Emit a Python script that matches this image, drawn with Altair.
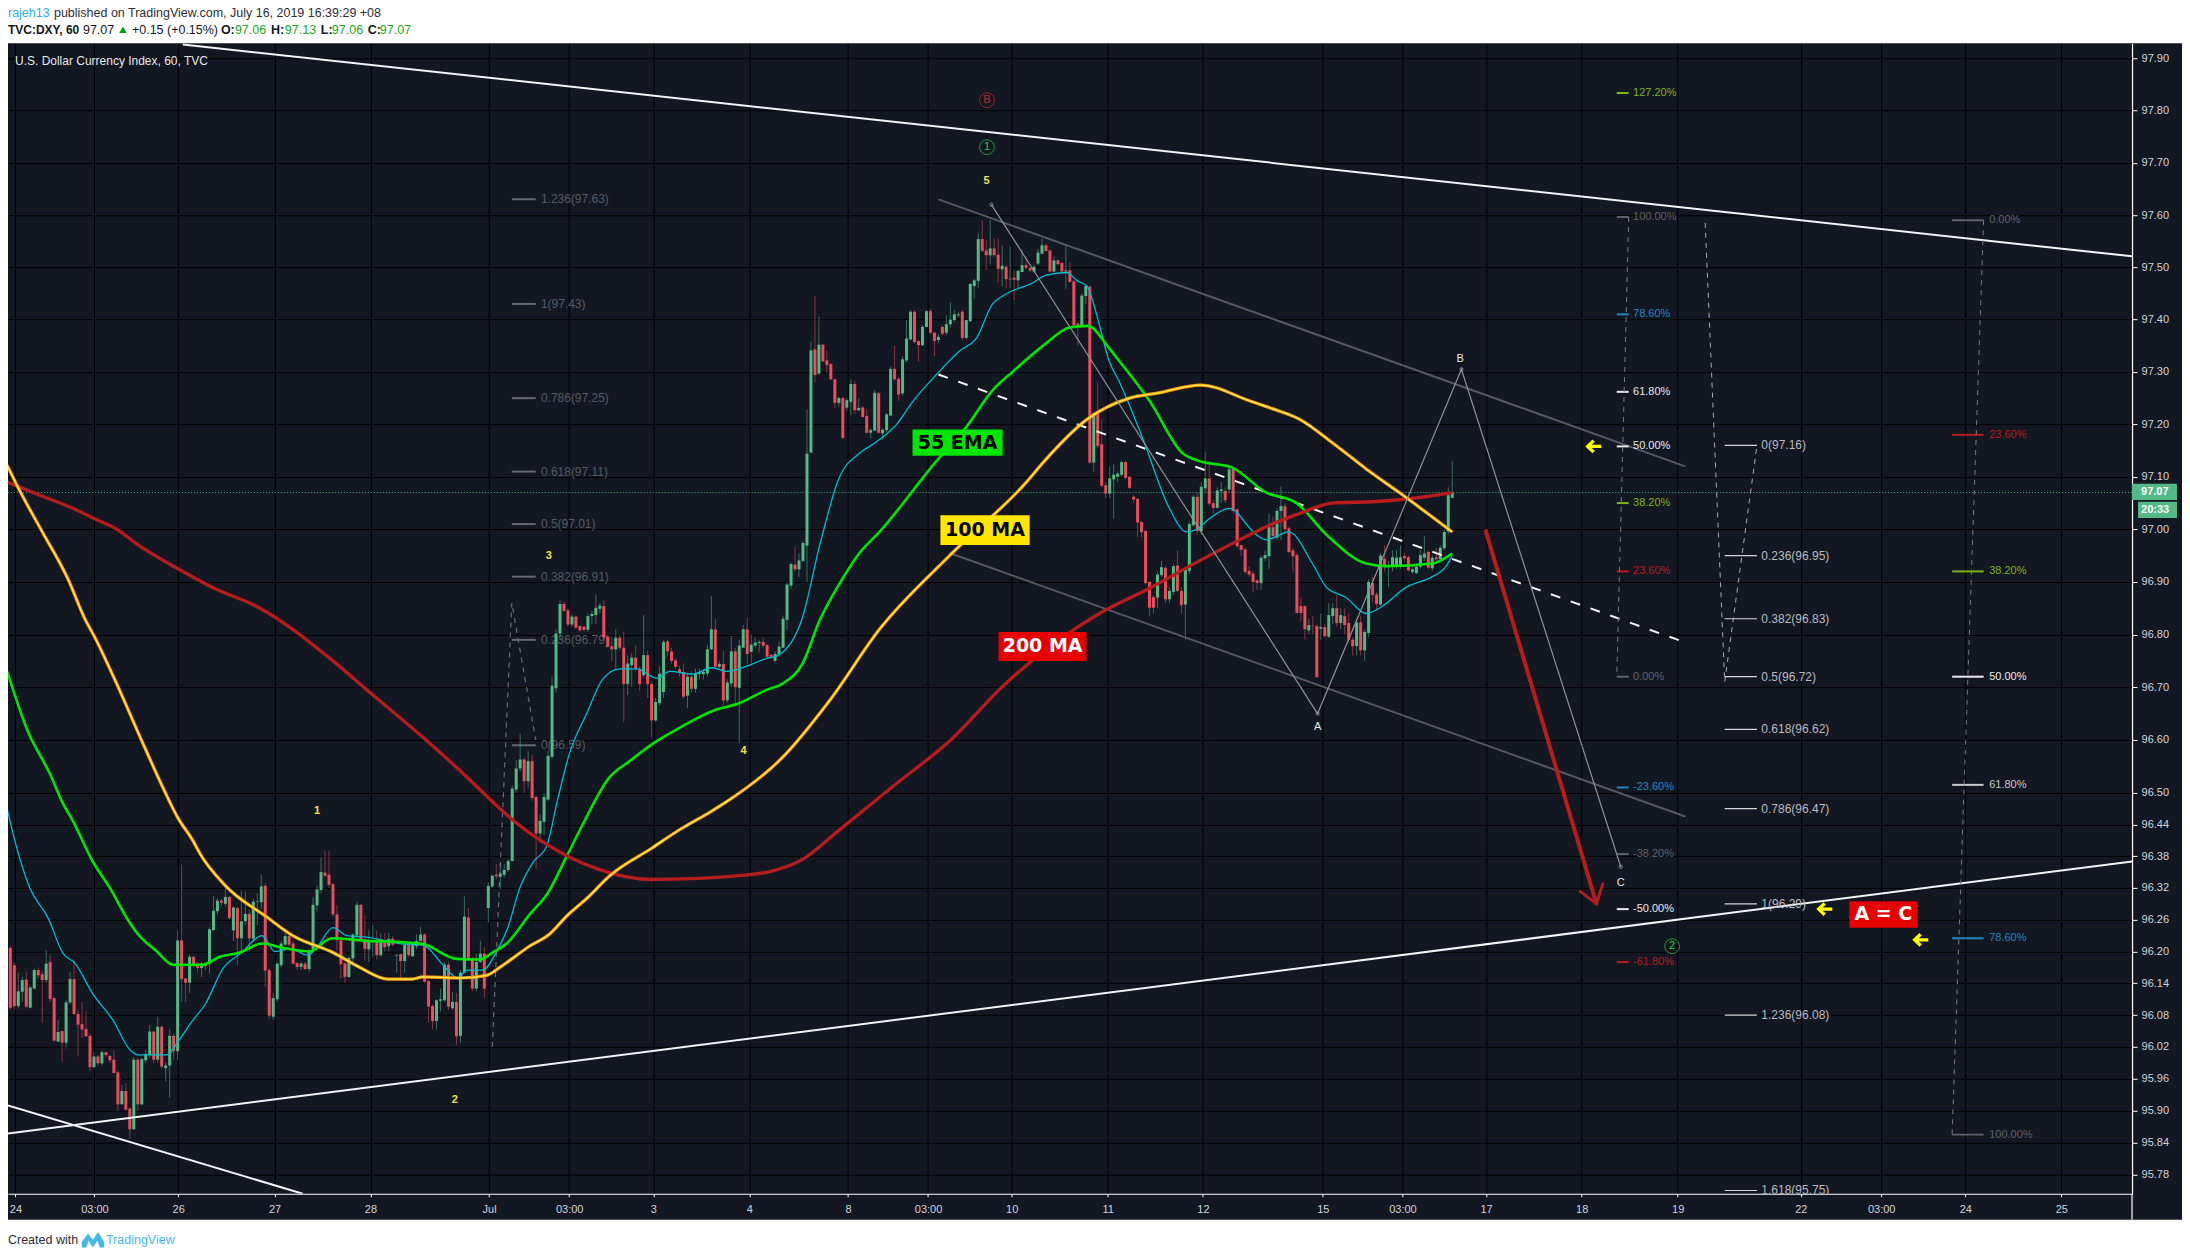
import json
import altair as alt
import pandas as pd

# ---- axis values ----
price_ticks = [97.9, 97.8, 97.7, 97.6, 97.5, 97.4, 97.3, 97.2, 97.1, 97.0, 96.9, 96.8, 96.7, 96.6, 96.5,
               96.44, 96.38, 96.32, 96.26, 96.2, 96.14, 96.08, 96.02, 95.96, 95.9, 95.84, 95.78]
time_ticks = [1.27, 21.12, 42.15, 66.34, 90.41, 120.2, 140.3, 161.4, 185.5, 210.3, 230.4, 251.4, 275.5,
              299.4, 329.5, 349.5, 370.5, 394.5, 418.6, 449.5, 469.7, 490.8, 514.9]
time_labels = ["24", "03:00", "26", "27", "28", "Jul", "03:00", "3", "4", "8", "03:00", "10", "11", "12",
               "15", "03:00", "17", "18", "19", "22", "03:00", "24", "25"]
BAR_MIN, BAR_MAX = -0.585, 532.66
PRICE_MIN, PRICE_MAX = 95.7439, 97.9294

# ---- hourly candles: (open, high, low, close) ----
candles_a = [
 (96.177,96.21,96.17,96.202),(96.207,96.21,96.09,96.094),(96.174,96.18,96.09,96.097),(96.097,96.16,96.093,96.125),
 (96.124,96.152,96.105,96.146),(96.147,96.162,96.093,96.096),(96.094,96.135,96.094,96.132),(96.13,96.168,96.13,96.165),
 (96.165,96.17,96.15,96.155),(96.157,96.165,96.065,96.146),(96.146,96.202,96.14,96.177),(96.18,96.193,96.105,96.11),
 (96.112,96.115,96.03,96.032),(96.03,96.071,96.03,96.048),(96.05,96.05,95.992,96.028),(96.028,96.108,96.017,96.104),
 (96.104,96.162,96.10,96.148),(96.148,96.185,96.08,96.082),(96.082,96.09,96.002,96.062),(96.063,96.105,96.037,96.053),
 (96.054,96.087,96.04,96.04),(96.041,96.045,95.974,95.982),(95.982,96.01,95.98,96.002),(96.002,96.005,95.985,95.989),
 (95.989,96.014,95.985,96.01),(96.01,96.012,96.0,96.005),(96.003,96.005,95.99,95.995),(95.996,96.015,95.97,95.971),
 (95.972,95.975,95.90,95.912),(95.912,95.949,95.912,95.937),(95.937,95.952,95.899,95.902),(95.904,95.906,95.846,95.865),
 (95.865,96.001,95.865,95.996),(95.996,96.0,95.90,95.912),(95.912,96.0,95.91,95.997),(95.995,96.015,95.99,96.007),
 (96.005,96.062,96.0,96.049),(96.049,96.05,95.99,95.996),(95.996,96.077,95.99,96.058),(96.058,96.06,95.98,95.983),
 (95.98,95.99,95.955,95.985),(95.985,96.053,95.924,96.041),(96.041,96.045,95.996,96.012),
]
candles_b = [
 (96.012,96.24,95.996,96.221),(96.221,96.364,96.105,96.148),(96.149,96.15,96.105,96.141),(96.141,96.195,96.122,96.19),
 (96.19,96.192,96.17,96.176),(96.177,96.18,96.16,96.169),(96.169,96.18,96.152,96.177),(96.177,96.18,96.165,96.172),
 (96.176,96.246,96.158,96.242),(96.24,96.305,96.24,96.277),(96.276,96.30,96.27,96.296),(96.296,96.30,96.285,96.292),
 (96.29,96.32,96.285,96.303),(96.303,96.305,96.26,96.263),(96.24,96.285,96.22,96.283),(96.282,96.285,96.174,96.225),
 (96.225,96.315,96.20,96.257),(96.257,96.313,96.25,96.271),(96.271,96.28,96.20,96.225),(96.224,96.30,96.22,96.294),
 (96.294,96.31,96.25,96.295),(96.293,96.345,96.28,96.323),(96.324,96.329,96.134,96.164),(96.165,96.17,96.072,96.079),
 (96.077,96.122,96.072,96.112),(96.11,96.18,96.105,96.177),(96.174,96.22,96.17,96.215),(96.213,96.235,96.21,96.229),
 (96.229,96.235,96.21,96.213),(96.215,96.22,96.175,96.177),(96.178,96.18,96.165,96.171),(96.171,96.18,96.165,96.177),
 (96.177,96.18,96.165,96.167),(96.167,96.205,96.161,96.202),(96.202,96.303,96.20,96.288),(96.287,96.325,96.275,96.317),
 (96.316,96.378,96.31,96.35),(96.349,96.39,96.34,96.343),(96.345,96.39,96.32,96.326),(96.327,96.33,96.265,96.27),
]
candles_c = [
 (96.27,96.287,96.20,96.221),(96.221,96.23,96.149,96.176),(96.177,96.18,96.141,96.152),(96.152,96.19,96.15,96.188),
 (96.187,96.235,96.18,96.232),(96.23,96.294,96.225,96.288),(96.288,96.29,96.22,96.221),(96.222,96.268,96.183,96.205),
 (96.204,96.24,96.18,96.22),(96.22,96.25,96.19,96.221),(96.221,96.24,96.185,96.193),(96.193,96.235,96.19,96.22),
 (96.22,96.235,96.2,96.208),(96.21,96.235,96.2,96.224),(96.224,96.23,96.21,96.213),(96.192,96.195,96.16,96.193),
 (96.195,96.195,96.146,96.182),(96.182,96.215,96.16,96.213),(96.213,96.215,96.19,96.193),(96.191,96.215,96.19,96.212),
 (96.21,96.232,96.205,96.22),(96.22,96.247,96.215,96.232),(96.232,96.235,96.14,96.143),(96.144,96.146,96.066,96.096),
 (96.097,96.1,96.053,96.069),(96.069,96.11,96.053,96.108),(96.107,96.13,96.087,96.11),(96.108,96.18,96.105,96.175),
 (96.175,96.18,96.09,96.096),(96.093,96.124,96.09,96.105),(96.105,96.122,96.024,96.04),(96.041,96.165,96.028,96.16),
 (96.16,96.304,96.16,96.266),(96.264,96.282,96.185,96.188),(96.188,96.19,96.125,96.13),(96.13,96.196,96.125,96.18),
 (96.18,96.22,96.178,96.196),(96.196,96.208,96.113,96.13),
]
candles_d = [
 (96.282,96.33,96.255,96.324),(96.323,96.345,96.32,96.343),(96.345,96.365,96.337,96.342),(96.341,96.368,96.318,96.347),
 (96.345,96.365,96.34,96.354),(96.354,96.375,96.35,96.371),(96.371,96.514,96.37,96.508),(96.506,96.562,96.50,96.546),
 (96.546,96.612,96.54,96.563),(96.563,96.566,96.50,96.522),(96.522,96.58,96.51,96.56),(96.56,96.572,96.485,96.49),
 (96.492,96.495,96.356,96.423),(96.423,96.46,96.405,96.447),(96.445,96.50,96.42,96.492),(96.487,96.58,96.485,96.57),
 (96.568,96.72,96.565,96.703),(96.698,96.81,96.69,96.802),(96.802,96.865,96.79,96.858),
 (96.858,96.862,96.843,96.845),(96.846,96.85,96.815,96.819),(96.819,96.838,96.815,96.834),(96.834,96.836,96.81,96.813),
 (96.816,96.818,96.805,96.808),(96.815,96.816,96.806,96.809),(96.809,96.84,96.805,96.835),(96.835,96.845,96.82,96.839),
 (96.837,96.876,96.82,96.851),(96.849,96.86,96.84,96.855),(96.854,96.865,96.79,96.794),(96.796,96.80,96.775,96.777),
 (96.778,96.795,96.75,96.772),(96.772,96.81,96.735,96.794),(96.794,96.80,96.77,96.775),(96.775,96.805,96.634,96.706),
 (96.706,96.76,96.685,96.745),(96.742,96.765,96.70,96.756),(96.756,96.78,96.73,96.735),(96.735,96.74,96.693,96.706),
 (96.723,96.837,96.72,96.761),(96.761,96.77,96.68,96.706),(96.706,96.71,96.606,96.637),(96.637,96.68,96.635,96.672),
 (96.67,96.74,96.665,96.726),(96.691,96.79,96.68,96.786),(96.787,96.79,96.76,96.768),(96.768,96.775,96.745,96.75),
 (96.751,96.755,96.735,96.739),(96.734,96.74,96.72,96.727),(96.729,96.745,96.678,96.682),(96.684,96.725,96.66,96.72),
 (96.72,96.73,96.69,96.697),(96.697,96.735,96.69,96.727),(96.725,96.735,96.715,96.727),(96.725,96.735,96.715,96.729),
 (96.726,96.78,96.72,96.772),(96.772,96.873,96.77,96.81),(96.81,96.829,96.735,96.739),(96.739,96.75,96.735,96.744),
 (96.744,96.769,96.665,96.675),(96.675,96.715,96.67,96.709),(96.707,96.797,96.70,96.768),(96.768,96.775,96.665,96.70),
]
candles_e = [
 (96.699,96.79,96.594,96.779),(96.775,96.818,96.775,96.81),(96.81,96.832,96.743,96.763),(96.767,96.80,96.746,96.781),
 (96.779,96.795,96.775,96.785),(96.784,96.79,96.766,96.786),(96.786,96.794,96.775,96.779),(96.78,96.782,96.755,96.758),
 (96.761,96.763,96.755,96.758),(96.75,96.768,96.747,96.763),(96.763,96.787,96.76,96.777),(96.775,96.836,96.775,96.83),
 (96.828,96.90,96.81,96.895),(96.893,96.937,96.887,96.934),(96.933,96.966,96.92,96.924),(96.924,96.954,96.909,96.941),
 (96.94,96.978,96.938,96.974),(96.969,97.228,96.899,97.144),(97.146,97.359,97.146,97.341),(97.343,97.445,97.28,97.294),
 (97.297,97.406,97.295,97.352),(97.352,97.354,97.318,97.32),(97.322,97.341,97.298,97.313),(97.315,97.317,97.284,97.286),
 (97.286,97.287,97.231,97.241),(97.241,97.253,97.234,97.25),(97.25,97.252,97.172,97.174),(97.232,97.25,97.225,97.246),
 (97.243,97.286,97.217,97.277),(97.277,97.282,97.22,97.227),(97.227,97.25,97.225,97.231),(97.232,97.235,97.213,97.214),
 (97.216,97.229,97.183,97.184),(97.184,97.192,97.173,97.189),(97.188,97.265,97.187,97.26),(97.259,97.262,97.182,97.184),
]
candles_f = [
 (97.183,97.192,97.17,97.19),(97.189,97.222,97.185,97.219),(97.217,97.31,97.215,97.306),(97.306,97.35,97.283,97.286),
 (97.287,97.29,97.245,97.257),(97.259,97.33,97.255,97.324),(97.322,97.399,97.318,97.364),(97.362,97.418,97.36,97.415),
 (97.415,97.418,97.355,97.357),(97.359,97.36,97.32,97.351),(97.351,97.39,97.35,97.386),(97.386,97.418,97.385,97.416),
 (97.416,97.42,97.372,97.375),(97.375,97.377,97.33,97.359),(97.361,97.372,97.355,97.367),(97.386,97.389,97.37,97.373),
 (97.375,97.408,97.37,97.391),(97.391,97.433,97.385,97.40),(97.399,97.418,97.395,97.41),(97.408,97.415,97.405,97.41),
 (97.415,97.418,97.36,97.365),(97.365,97.40,97.362,97.399),(97.397,97.47,97.395,97.468),(97.464,97.478,97.44,97.475),
 (97.474,97.566,97.46,97.554),(97.554,97.59,97.53,97.531),(97.532,97.553,97.495,97.523),(97.523,97.59,97.505,97.536),
 (97.536,97.555,97.52,97.523),(97.524,97.555,97.47,97.497),(97.496,97.542,97.463,97.503),(97.501,97.505,97.46,97.477),
 (97.477,97.54,97.46,97.478),(97.48,97.494,97.437,97.476),(97.475,97.495,97.46,97.493),(97.491,97.533,97.49,97.504),
 (97.504,97.52,97.495,97.499),(97.499,97.50,97.49,97.494),(97.492,97.505,97.49,97.501),(97.507,97.535,97.505,97.528),
 (97.526,97.555,97.525,97.542),(97.542,97.545,97.53,97.531),(97.532,97.535,97.49,97.492),(97.492,97.521,97.49,97.513),
 (97.513,97.515,97.505,97.506),(97.508,97.51,97.49,97.492),(97.492,97.543,97.459,97.494),(97.494,97.51,97.47,97.472),
 (97.473,97.475,97.385,97.389),(97.392,97.395,97.35,97.387),(97.387,97.45,97.385,97.446),(97.445,97.467,97.43,97.464),
]
candles_g = [
 (97.463,97.465,97.125,97.127),(97.127,97.222,97.11,97.222),(97.222,97.28,97.155,97.159),(97.162,97.21,97.08,97.083),
 (97.084,97.09,97.06,97.068),(97.068,97.12,97.06,97.097),(97.095,97.124,97.02,97.104),(97.10,97.11,97.09,97.106),
 (97.104,97.13,97.10,97.128),(97.128,97.13,97.095,97.098),(97.10,97.101,97.077,97.079),(97.062,97.065,97.05,97.057),
 (97.058,97.06,96.985,97.013),(97.014,97.016,96.985,96.995),(96.997,96.998,96.895,96.898),(96.90,96.90,96.835,96.851),
 (96.871,96.875,96.84,96.851),(96.87,96.92,96.85,96.914),(96.913,96.94,96.91,96.928),(96.927,96.93,96.86,96.867),
 (96.867,96.89,96.86,96.883),(96.881,96.935,96.875,96.93),(96.931,96.96,96.88,96.883),(96.883,96.89,96.84,96.856),
 (96.857,96.925,96.79,96.923),(96.921,97.015,96.915,97.01),(97.008,97.065,97.005,97.062),(97.062,97.07,96.99,96.997),
 (96.996,97.09,96.99,97.081),(97.078,97.147,97.07,97.097),(97.097,97.13,97.045,97.049),(97.05,97.055,97.03,97.041),
 (97.041,97.08,97.04,97.074),(97.073,97.09,97.05,97.076),(97.073,97.08,97.05,97.055),(97.076,97.118,97.07,97.114),
 (97.116,97.118,97.03,97.035),(97.038,97.04,96.965,96.968),(96.97,96.97,96.95,96.961),(96.962,96.965,96.915,96.919),
 (96.921,96.93,96.91,96.914),(96.916,96.92,96.88,96.90),(96.903,96.905,96.885,96.898),(96.898,96.95,96.885,96.946),
 (96.945,96.96,96.94,96.951),(96.949,97.03,96.925,97.004),(97.004,97.025,96.98,96.987),(96.984,97.04,96.98,97.035),
 (97.035,97.082,96.98,97.044),(97.044,97.05,96.995,97.0),(97.002,97.005,96.955,96.957),(96.96,96.965,96.92,96.949),
 (96.951,96.955,96.84,96.841),(96.854,96.87,96.825,96.841),(96.854,96.855,96.79,96.81),(96.808,96.83,96.80,96.818),
 (96.818,96.835,96.80,96.817),(96.816,96.82,96.718,96.719),(96.811,96.84,96.79,96.814),(96.814,96.82,96.793,96.797),
 (96.796,96.86,96.793,96.837),(96.835,96.86,96.82,96.85),(96.85,96.875,96.815,96.822),(96.822,96.85,96.81,96.837),
 (96.835,96.85,96.80,96.818),(96.822,96.84,96.785,96.79),(96.79,96.795,96.76,96.778),(96.778,96.83,96.76,96.823),
 (96.823,96.835,96.76,96.77),(96.77,96.81,96.75,96.805),(96.803,96.905,96.795,96.90),(96.898,96.91,96.86,96.875),
 (96.876,96.88,96.845,96.858),(96.857,96.955,96.855,96.95),(96.944,96.97,96.92,96.93),(96.929,96.94,96.89,96.93),
 (96.93,96.96,96.92,96.947),(96.93,96.96,96.925,96.946),(96.93,96.97,96.925,96.947),(96.949,96.955,96.94,96.945),
 (96.947,96.95,96.92,96.922),(96.919,96.93,96.915,96.924),(96.917,96.935,96.915,96.929),(96.929,96.96,96.925,96.951),
 (96.946,96.988,96.94,96.954),(96.957,96.96,96.925,96.927),(96.926,96.95,96.92,96.946),(96.947,96.965,96.94,96.943),
 (96.943,96.97,96.94,96.965),(96.964,97.0,96.96,96.995),(96.996,97.08,96.99,97.065),(97.06,97.13,97.06,97.07),
]
candle_segments = [(-1, candles_a), (42, candles_b), (82, candles_c), (120, candles_d), (183, candles_e),
                   (219, candles_f), (271, candles_g)]

# ---- moving averages: hour number, price ----
ma200_bar = [-0.8,5.7,15.7,21.2,26.8,31.8,42.1,50.9,62.7,70.9,81,90.3,103.3,114.6,122.9,125.9,135.2,147,161,172.6,180.6,
             190.1,198.9,207.7,221.7,235.8,249.6,273.4,286,298.5,308.6,316.8,323.6,331.9,343,353,362]
ma200_val = [97.09,97.07,97.04,97.02,97.0,96.972,96.925,96.889,96.85,96.81,96.75,96.69,96.607,96.53,96.47,96.45,96.40,
             96.357,96.336,96.338,96.342,96.35,96.374,96.427,96.513,96.598,96.705,96.84,96.888,96.94,96.98,97.01,97.03,
             97.05,97.053,97.06,97.07]
ma100_bar = [-0.8,2.4,7.9,14.5,18.7,21.2,26.8,32.5,38.3,42.1,45.8,47.6,53.9,64.4,70.9,81,87.7,94.8,100.9,103.6,112.8,119.6,
             122.9,126.1,129.9,135.4,139.7,144.7,150.5,161,168,176,180.6,193.6,205.7,218.2,235.8,255.1,259.6,270.4,281,
             288.3,298.8,311.1,316.8,323.6,331.9,340.4,348.7,362]
ma100_val = [97.122,97.073,96.997,96.905,96.83,96.795,96.705,96.607,96.51,96.452,96.41,96.385,96.325,96.265,96.23,96.198,
             96.17,96.148,96.148,96.152,96.15,96.155,96.17,96.187,96.208,96.233,96.267,96.30,96.343,96.395,96.43,96.465,
             96.487,96.565,96.675,96.81,96.95,97.09,97.13,97.21,97.25,97.26,97.275,97.245,97.23,97.21,97.165,97.115,97.07,96.995]
ema55_bar = [-0.8,4.2,10,13.2,15.7,20.7,25,29.5,31.8,36.8,40.8,48.3,52.6,57.6,63.2,68.4,75.2,80.7,89.5,97.8,103.6,112.1,117.9,
             121.1,124.6,130.4,134.9,139.7,143.7,150.5,155.5,161.3,168,176.3,183.1,189.9,193.9,198.9,203.2,208.2,213.2,
             218.2,232.5,240,246.6,251.6,260.1,265.9,270.4,275.9,278.5,286,294.3,298.5,306.6,315.3,322.9,330.4,340.4,
             345.5,357,362]
ema55_val = [96.73,96.62,96.535,96.48,96.447,96.37,96.32,96.26,96.235,96.2,96.175,96.175,96.19,96.198,96.215,96.207,96.2,96.225,
             96.22,96.218,96.214,96.186,96.185,96.198,96.215,96.27,96.31,96.38,96.44,96.53,96.56,96.593,96.623,96.655,
             96.67,96.695,96.707,96.745,96.827,96.897,96.955,96.995,97.13,97.195,97.265,97.30,97.355,97.385,97.388,
             97.345,97.32,97.245,97.145,97.13,97.118,97.07,97.05,96.99,96.935,96.93,96.935,96.954]
ema_fast_bar = [-0.8,-0.1,4.9,9.5,13.2,16.2,20.7,25.8,30,32,39.3,42.1,45.8,48.9,53.4,58.1,63.2,66.4,70.2,74.7,77.2,81,
                84.5,89.5,97.8,103.6,108.6,112.3,114.6,118.6,122.1,124.9,127.9,131.2,134.7,137.4,140.4,144.7,148.7,153,
                157.3,162.3,165.5,171.3,176.3,179.8,184.9,189.9,192.6,198.9,203.2,208.2,213.2,217.5,222.5,226.5,232.5,
                238.3,242.6,246.6,249.1,256.6,260.1,265.2,267.7,270.4,272.7,275.9,278.5,280.5,284.2,291,295.3,297.8,
                301,306,312.8,315.3,321,326.9,330.4,335.4,340.4,343.7,350.5,357,360.5,362]
ema_fast_val = [96.47,96.447,96.32,96.263,96.197,96.178,96.12,96.07,96.015,96.005,96.005,96.03,96.07,96.1,96.168,96.198,
                96.23,96.2,96.205,96.193,96.21,96.245,96.23,96.227,96.215,96.212,96.175,96.15,96.165,96.165,96.2,96.245,
                96.32,96.368,96.40,96.487,96.575,96.65,96.715,96.735,96.735,96.717,96.73,96.725,96.737,96.73,96.74,96.755,
                96.76,96.833,96.97,97.10,97.145,97.167,97.20,97.243,97.295,97.34,97.365,97.43,97.445,97.47,97.485,97.49,
                97.475,97.463,97.41,97.32,97.28,97.245,97.175,97.04,96.995,97.0,97.02,97.04,96.99,96.98,96.995,96.935,
                96.89,96.87,96.84,96.85,96.89,96.91,96.93,96.95]

# ---- fibonacci levels ----
GREY = "#5f626a"; LIGHT = "#c4c6cb"; WHITE = "#e8e9ec"; BLUE = "#2286c3"; OLIVE = "#7cb518"; RED = "#b71c1c"
fib_a_labels = ["1.236(97.63)", "1(97.43)", "0.786(97.25)", "0.618(97.11)", "0.5(97.01)", "0.382(96.91)", "0.236(96.79)", "0(96.59)"]
fib_a_prices = [97.63, 97.43, 97.25, 97.11, 97.01, 96.91, 96.79, 96.59]
fib_b_labels = ["127.20%", "100.00%", "78.60%", "61.80%", "50.00%", "38.20%", "23.60%", "0.00%", "-23.60%", "-38.20%", "-50.00%", "-61.80%"]
fib_b_prices = [97.834, 97.596, 97.41, 97.262, 97.158, 97.05, 96.92, 96.72, 96.51, 96.384, 96.28, 96.18]
fib_b_colors = [OLIVE, GREY, BLUE, WHITE, WHITE, OLIVE, RED, GREY, BLUE, GREY, WHITE, RED]
fib_c_labels = ["0(97.16)", "0.236(96.95)", "0.382(96.83)", "0.5(96.72)", "0.618(96.62)", "0.786(96.47)", "1(96.29)", "1.236(96.08)", "1.618(95.75)"]
fib_c_prices = [97.16, 96.95, 96.83, 96.72, 96.62, 96.47, 96.29, 96.08, 95.75]
fib_d_labels = ["0.00%", "23.60%", "38.20%", "50.00%", "61.80%", "78.60%", "100.00%"]
fib_d_prices = [97.59, 97.18, 96.92, 96.72, 96.515, 96.225, 95.855]
fib_d_colors = [GREY, RED, OLIVE, WHITE, "#c9c9c9", BLUE, GREY]

X_SCALE = alt.Scale(domain=[BAR_MIN, BAR_MAX], nice=False, zero=False)
Y_SCALE = alt.Scale(type="log", domain=[PRICE_MIN, PRICE_MAX], nice=False)
label_expr = f"{json.dumps(time_labels)}[indexof({json.dumps(time_ticks)}, datum.value)]"
X_AXIS = alt.Axis(title=None, values=time_ticks, labelExpr=label_expr, grid=True, gridColor="#000000", gridWidth=1,
                  tickColor="#ffffff", tickSize=3, domainColor="#ffffff", domainWidth=1.2, labelColor="#d1d4dc",
                  labelFont="Liberation Sans", labelFontSize=11, labelPadding=7, labelOverlap=False, labelFlush=False)
Y_AXIS = alt.Axis(title=None, orient="right", values=price_ticks, format=".2f", grid=True, gridColor="#000000", gridWidth=1,
                  tickColor="#ffffff", tickSize=5, domainColor="#ffffff", domainWidth=1.2, labelColor="#d1d4dc",
                  labelFont="Liberation Sans", labelFontSize=11, labelPadding=4, labelOverlap=False, labelFlush=False)
X = alt.X("b:Q", scale=X_SCALE, axis=X_AXIS)
Y = alt.Y("p:Q", scale=Y_SCALE, axis=Y_AXIS)
layers = []


def path(bars, prices, color, width, dash=None, opacity=1.0, curve="linear"):
    df = pd.DataFrame({"b": bars, "p": prices, "i": range(len(bars))})
    kw = {"strokeDash": dash} if dash else {}
    return alt.Chart(df).mark_line(clip=True, color=color, strokeWidth=width, opacity=opacity, interpolate=curve, **kw).encode(x=X, y=Y, order="i:Q")


def level(b0, b1, p, color, width):
    df = pd.DataFrame({"b": [b0], "b2": [b1], "p": [p]})
    return alt.Chart(df).mark_rule(color=color, strokeWidth=width, clip=True).encode(x=X, x2="b2:Q", y=Y)


def tag(b, p, text, color, size=12, weight="normal", align="left", font="Liberation Sans"):
    df = pd.DataFrame({"b": [b], "p": [p]})
    return alt.Chart(df).mark_text(text=text, color=color, fontSize=size, fontWeight=weight, align=align,
                                   baseline="middle", font=font, clip=True).encode(x=X, y=Y)


def box(b0, b1, p0, p1, fill, text, ink):
    df = pd.DataFrame({"b": [b0], "b2": [b1], "p": [p0], "p2": [p1]})
    r = alt.Chart(df).mark_rect(color=fill).encode(x=X, x2="b2:Q", y=Y, y2="p2:Q")
    t = tag((b0 + b1) / 2, (p0 + p1) / 2, text, ink, 19, "bold", "center", "DejaVu Sans")
    return [r, t]


def chrome_text(text, x, y, color="#131722", size=12.5, weight="normal", align="left", font="Liberation Sans"):
    return alt.Chart(pd.DataFrame({"a": [0]})).mark_text(text=text, color=color, fontSize=size, fontWeight=weight, align=align,
                                                         baseline="middle", font=font).encode(x=alt.value(x), y=alt.value(y))


def chrome_rect(x, x2, y, y2, color):
    return alt.Chart(pd.DataFrame({"a": [0]})).mark_rect(color=color).encode(
        x=alt.value(x), x2=alt.value(x2), y=alt.value(y), y2=alt.value(y2))


# gray fib levels sit under the candles
for lab, pr in zip(fib_a_labels, fib_a_prices):
    layers.append(level(125.9, 131.9, pr, "#666a70", 2))
    layers.append(tag(133.2, pr, lab, "#565a61", 12))
layers.append(path([121, 125.9, 131.9], [96.02, 96.86, 96.60], "#6a6d74", 1.2, [5, 5]))

# candles
rows = []
for start, seg in candle_segments:
    for k, (o, h, l, c) in enumerate(seg):
        rows.append({"b": start + k, "o": o, "h": h, "l": l, "c": c})
cd = pd.DataFrame(rows)
for frame, col in ((cd[cd.c >= cd.o], "#53b987"), (cd[cd.c < cd.o], "#eb4d5c")):
    layers.append(alt.Chart(frame).mark_rule(color=col, strokeWidth=1, opacity=0.55).encode(
        x=X, y=alt.Y("h:Q", scale=Y_SCALE, axis=Y_AXIS), y2="l:Q"))
    layers.append(alt.Chart(frame).mark_rule(color=col, strokeWidth=3).encode(
        x=X, y=alt.Y("o:Q", scale=Y_SCALE, axis=Y_AXIS), y2="c:Q"))

# current price line
layers.append(path([BAR_MIN, BAR_MAX], [97.07, 97.07], "#53b987", 1, [1, 2]))

# long trend lines
layers.append(path([43.3, 532.66], [97.927, 97.521], "#f2f3f5", 2))
layers.append(path([BAR_MIN, 532.66], [95.857, 96.37], "#f2f3f5", 2))
layers.append(path([BAR_MIN, 73.4], [95.91, 95.7439], "#f2f3f5", 2))

# channel
layers.append(path([233, 420.5], [97.63, 97.12], "#55585f", 2))
layers.append(path([235.8, 420.5], [96.955, 96.455], "#55585f", 2))
layers.append(path([233, 420.5], [97.295, 96.785], "#f5f5f5", 2, [10, 11]))

# moving averages
layers.append(path(ema_fast_bar, ema_fast_val, "#00bcd4", 1.3, curve="monotone"))
layers.append(path(ema55_bar, ema55_val, "#00e600", 2.6, curve="monotone"))
layers.append(path(ma200_bar, ma200_val, "#b71c1c", 3.3, curve="monotone"))
layers.append(path(ma100_bar, ma100_val, "#ff9800", 3.2, curve="monotone"))
layers.append(path(ma100_bar, ma100_val, "#ffee58", 1.3, curve="monotone"))

# wave
wave_bar = [246.3, 328.2, 364.3, 404.3]
wave_val = [97.62, 96.65, 97.305, 96.36]
layers.append(path(wave_bar, wave_val, "#8f9196", 1.2))
layers.append(alt.Chart(pd.DataFrame({"b": wave_bar, "p": wave_val})).mark_point(
    shape="circle", size=10, color="#b8b9bc", filled=False, strokeWidth=1).encode(x=X, y=Y))

# other fib levels
for lab, pr, col in zip(fib_b_labels, fib_b_prices, fib_b_colors):
    layers.append(level(403.3, 406.3, pr, col, 2))
    layers.append(tag(407.4, pr, lab, col, 11))
layers.append(path([406.3, 403.3], [97.596, 96.72], "#777a80", 1, [5, 5]))
for lab, pr in zip(fib_c_labels, fib_c_prices):
    layers.append(level(430.4, 438.5, pr, "#d6d7da", 1.2))
    layers.append(tag(439.6, pr, lab, "#b9bbc0", 12))
layers.append(path([425.5, 430.4, 438.5], [97.585, 96.71, 97.16], "#a9abb0", 1, [5, 5]))
for lab, pr, col in zip(fib_d_labels, fib_d_prices, fib_d_colors):
    layers.append(level(487.5, 495.4, pr, col, 2))
    layers.append(tag(496.8, pr, lab, col, 11))
layers.append(path([495.4, 487.5], [97.59, 95.855], "#777a80", 1, [5, 5]))

# wave labels
for lab, b, p in (("1", 77, 96.465), ("2", 111.6, 95.92), ("3", 135.2, 96.95), ("4", 184.1, 96.58), ("5", 245.1, 97.665)):
    layers.append(tag(b, p, lab, "#f0e442", 11, "bold", "center"))
for lab, b, p in (("A", 328.2, 96.625), ("B", 364, 97.325), ("C", 404.3, 96.33)):
    layers.append(tag(b, p, lab, "#e8e9ec", 11, "normal", "center"))
for lab, b, p, col in (("B", 245.2, 97.82, "#c62828"), ("1", 245.2, 97.73, "#2ecc40"), ("2", 417.2, 96.21, "#2ecc40")):
    layers.append(alt.Chart(pd.DataFrame({"b": [b], "p": [p]})).mark_point(
        shape="circle", size=220, color=col, filled=False, strokeWidth=1).encode(x=X, y=Y))
    layers.append(tag(b, p, lab, col, 11, "normal", "center"))

# projected move
layers.append(path([370.3, 398.2], [97.0, 96.29], "#b71c1c", 4))
layers.append(path([393.9, 398.2, 399.9], [96.315, 96.29, 96.33], "#b71c1c", 3))

# arrows
ARROW = "M-1 0 L-0.1 -0.85 L0.2 -0.55 L-0.2 -0.2 L1 -0.2 L1 0.2 L-0.2 0.2 L0.2 0.55 L-0.1 0.85 Z"
layers.append(alt.Chart(pd.DataFrame({"b": [397.4, 455.4, 479.5], "p": [97.158, 96.28, 96.222]})).mark_point(
    shape=ARROW, size=256, color="#ffff00", filled=True, opacity=1).encode(x=X, y=Y))

# boxed notes
layers += box(226.5, 249.1, 97.19, 97.14, "#00e600", "55 EMA", "#000000")
layers += box(233.5, 255.9, 97.027, 96.97, "#ffe600", "100 MA", "#000000")
layers += box(248.1, 270.2, 96.805, 96.75, "#e60000", "200 MA", "#ffffff")
layers += box(461.7, 478.8, 96.295, 96.245, "#e60000", "A = C", "#ffffff")

# page chrome (plot-relative pixels: plot origin is page 8,43)
layers.append(chrome_rect(-4, 2182, -40, 0, "#ffffff"))
layers.append(chrome_rect(-4, 2182, 1177, 1215, "#ffffff"))
layers.append(alt.Chart(pd.DataFrame({"a": [0]})).mark_rule(color="#ffffff", strokeWidth=1.2).encode(
    x=alt.value(2125), y=alt.value(1151), y2=alt.value(1177)))
layers.append(chrome_rect(2125, 2170, 440.7, 457, "#53b987"))
layers.append(chrome_rect(2131, 2170, 458.7, 475, "#53b987"))
layers.append(chrome_text("97.07", 2134, 449, "#ffffff", 11, "bold"))
layers.append(chrome_text("20:33", 2134, 467, "#ffffff", 11, "bold"))
layers.append(chrome_text("U.S. Dollar Currency Index, 60, TVC", 7, 18, "#e8e9ec", 12))
layers.append(chrome_text("rajeh13", 0, -30.5, "#2eaee6"))
layers.append(chrome_text("published on TradingView.com, July 16, 2019 16:39:29 +08", 46, -30.5, "#2b2e36"))
layers.append(chrome_text("TVC:DXY, 60", 0, -13.5, "#131722", 12, "bold"))
layers.append(chrome_text("97.07", 75, -13.5, "#131722"))
layers.append(alt.Chart(pd.DataFrame({"a": [0]})).mark_point(shape="triangle-up", size=55, color="#009a0e", filled=True, opacity=1).encode(
    x=alt.value(115), y=alt.value(-13.5)))
layers.append(chrome_text("+0.15 (+0.15%)", 124, -13.5, "#131722"))
for head, hx, val, vx in (("O:", 213, "97.06", 227), ("H:", 263, "97.13", 277), ("L:", 313, "97.06", 324), ("C:", 360, "97.07", 372)):
    layers.append(chrome_text(head, hx, -13.5, "#131722", 12.5, "bold"))
    layers.append(chrome_text(val, vx, -13.5, "#19a71f"))
layers.append(chrome_text("Created with", 0, 1197, "#2b2e36"))
layers.append(alt.Chart(pd.DataFrame({"a": [0]})).mark_point(
    shape="M-1 0.7 L-1 0.2 L-0.45 -0.55 L0 0 L0.45 -0.7 L1 0.2 L1 0.7 L0.6 0.7 L0.4 0.1 L0 0.7 L-0.4 0.1 L-0.6 0.7 Z",
    size=500, color="#45b8e8", filled=True, opacity=1).encode(x=alt.value(85), y=alt.value(1197)))
layers.append(chrome_text("TradingView", 98, 1197, "#45b8e8"))

chart = alt.layer(*layers).properties(
    width=2125, height=1151, background="#131722",
    padding={"left": 0, "top": 35, "right": 50, "bottom": 56},
    autosize=alt.AutoSizeParams(type="none"),
).configure_view(strokeWidth=0)

chart.save("out.html", embed_options={"renderer": "svg", "actions": False})
